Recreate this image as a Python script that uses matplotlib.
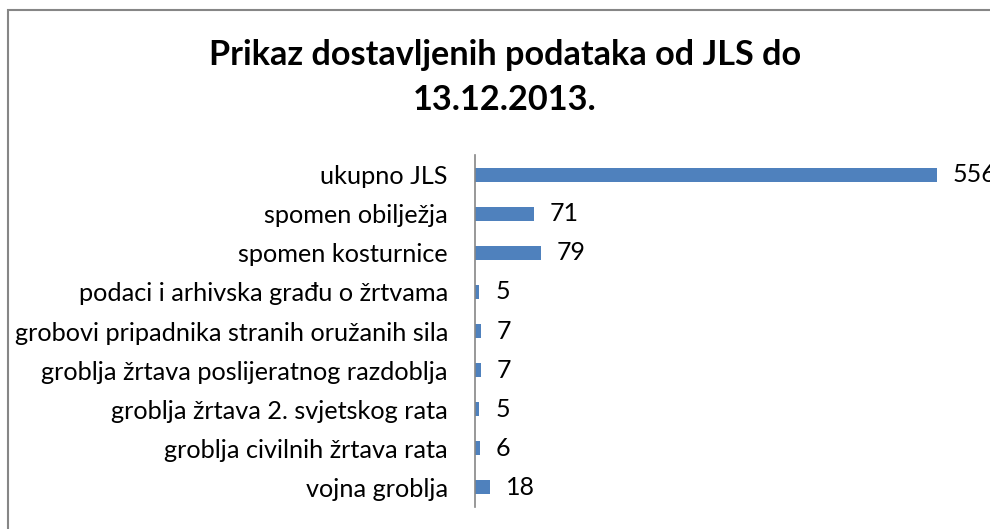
import matplotlib.pyplot as plt
from matplotlib.patches import Rectangle

# podaci (odozdo prema gore, kako ih crta barh)
kategorije = [
    "vojna groblja",
    "groblja civilnih žrtava rata",
    "groblja žrtava 2. svjetskog rata",
    "groblja žrtava poslijeratnog razdoblja",
    "grobovi pripadnika stranih oružanih sila",
    "podaci i arhivska građu o žrtvama",
    "spomen kosturnice",
    "spomen obilježja",
    "ukupno JLS",
]
vrijednosti = [18, 6, 5, 7, 7, 5, 79, 71, 556]
naslov = "Prikaz dostavljenih podataka od JLS do\n13.12.2013."

plt.rcParams['font.family'] = ['Lato', 'DejaVu Sans']

W, H = 990, 529
fig = plt.figure(figsize=(W / 100, H / 100), dpi=100)

# okvir grafikona (desni i donji rub su odrezani)
fig.patches.append(Rectangle((8 / W, -0.1), 1.2, 1 - 9.5 / H + 0.1,
                             transform=fig.transFigure, fill=False,
                             edgecolor="#868686", linewidth=1.5))

ax = fig.add_axes([475 / W, 1 - 507 / H, (W - 475) / W, (507 - 155) / H])
poz = range(len(kategorije))
ax.barh(poz, vrijednosti, height=0.36, color="#4F81BD")
ax.set_xlim(0, (W - 475) / 0.831)
ax.set_ylim(-0.5, len(kategorije) - 0.5)
ax.set_yticks(list(poz))
ax.set_yticklabels(kategorije, fontsize=18.2)
ax.tick_params(axis="y", length=0, pad=19.5)
ax.xaxis.set_visible(False)
for s in ["top", "right", "bottom"]:
    ax.spines[s].set_visible(False)
ax.spines["left"].set_color("#868686")
ax.spines["left"].set_linewidth(1.2)

for i, v in enumerate(vrijednosti):
    ax.annotate(str(v), (v, i), xytext=(11.5, 0), textcoords="offset points",
                va="center", ha="left", fontsize=18, clip_on=False)

fig.text(505 / W, 1 - 77 / H, naslov, ha="center", va="center",
         fontsize=24.7, fontweight="bold", linespacing=1.5)

fig.savefig("out.png", dpi=100)
